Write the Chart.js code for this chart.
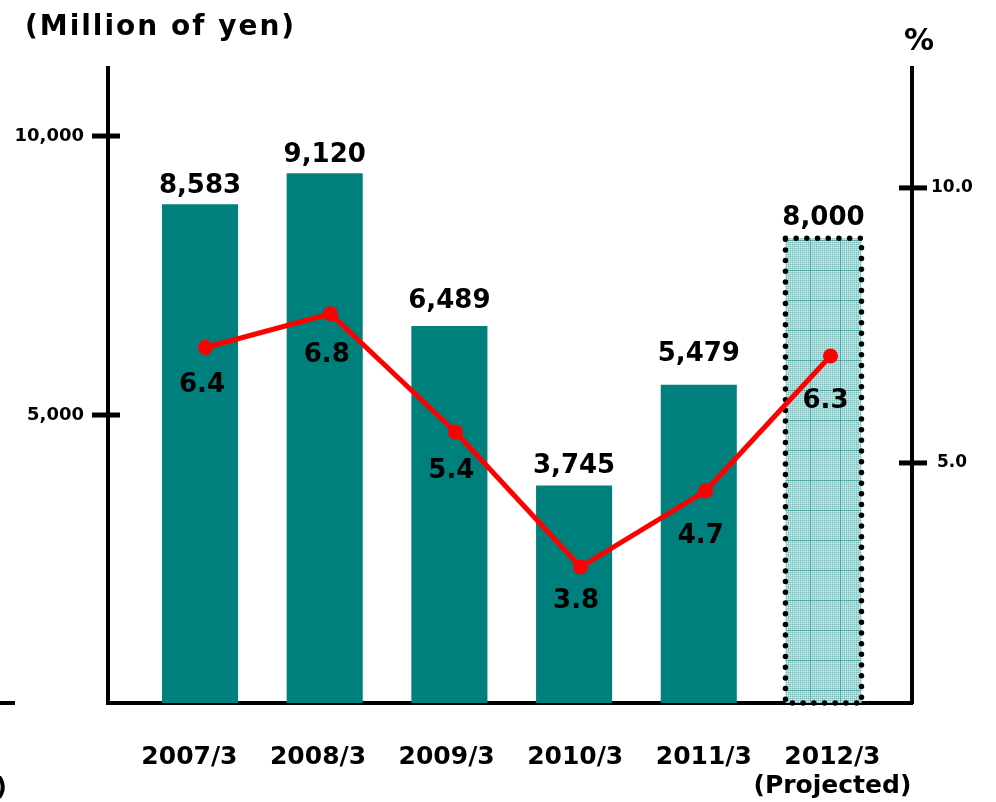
<!DOCTYPE html>
<html>
<head>
<meta charset="utf-8">
<script src="https://cdn.jsdelivr.net/npm/chart.js@4"></script>
<style>
  body { margin: 0; background: #fff; }
  canvas { display: block; }
</style>
</head>
<body>
<canvas id="chart" width="996" height="802"></canvas>
<script>
const categories = ['2007/3', '2008/3', '2009/3', '2010/3', '2011/3', '2012/3'];
const categoryNotes = ['', '', '', '', '', '(Projected)'];
const sales = [8583, 9120, 6489, 3745, 5479, 8000];
const margin = [6.4, 6.8, 5.4, 3.8, 4.7, 6.3];
const leftTicks = [5000, 10000];
const rightTicks = [5.0, 10.0];

const FONT = '"DejaVu Sans", Verdana, sans-serif';
const TEAL = '#00807c';

// per label nudges
const barLabelGap = [11, 11, 18, 12, 24, 13];
const lineLabelDrop = [44, 48, 46, 41, 52, 52];

// light grid fill used for the projected bar
function makeGridPattern(ctx) {
    const pc = document.createElement('canvas');
    pc.width = 30;
    pc.height = 30;
    const p = pc.getContext('2d');
    p.fillStyle = '#d3ebe9';
    p.fillRect(0, 0, 30, 30);
    p.fillStyle = 'rgba(0, 128, 124, 0.22)';
    for (let i = 0; i < 30; i += 2) {
        p.fillRect(i, 0, 1, 30);
        p.fillRect(0, i, 30, 1);
    }
    p.fillStyle = 'rgba(0, 128, 124, 0.45)';
    p.fillRect(0, 0, 1, 30);
    p.fillRect(0, 0, 30, 1);
    return ctx.createPattern(pc, 'repeat');
}

const canvas = document.getElementById('chart');
const ctx = canvas.getContext('2d');
const gridPattern = makeGridPattern(ctx);

const barColors = sales.map((v, i) => categoryNotes[i] ? gridPattern : TEAL);
const indexTicks = axis => {
    axis.ticks = categories.map((c, i) => ({ value: i }));
};

const extrasPlugin = {
    id: 'extras',
    afterDatasetDraw(chart, args) {
        if (args.index !== 0) return;
        const c = chart.ctx;
        const meta = chart.getDatasetMeta(0);
        meta.data.forEach((bar, i) => {
            if (!categoryNotes[i]) return;
            const p = bar.getProps(['x', 'y', 'base', 'width'], true);
            c.save();
            c.strokeStyle = '#000';
            c.lineWidth = 5.5;
            c.lineCap = 'round';
            c.setLineDash([0, 10.7]);
            c.strokeRect(p.x - p.width / 2, p.y, p.width, p.base - p.y);
            c.restore();
        });
    },
    afterDatasetsDraw(chart) {
        const c = chart.ctx;
        const s = chart.scales;
        c.save();
        c.fillStyle = '#000';
        c.font = 'bold 26px ' + FONT;
        c.textAlign = 'center';
        c.textBaseline = 'alphabetic';

        // bar values
        chart.getDatasetMeta(0).data.forEach((bar, i) => {
            c.fillText(sales[i].toLocaleString('en-US'), bar.x, bar.y - barLabelGap[i]);
        });

        // line values
        chart.getDatasetMeta(1).data.forEach((pt, i) => {
            const x = s.xBar.getPixelForValue(i) + 2;
            c.fillText(margin[i].toFixed(1), x, pt.y + lineLabelDrop[i]);
        });

        // tick marks crossing the side axes
        c.strokeStyle = '#000';
        c.lineWidth = 5;
        leftTicks.forEach(v => {
            const y = s.y.getPixelForValue(v);
            c.beginPath();
            c.moveTo(s.y.right - 16, y);
            c.lineTo(s.y.right + 12, y);
            c.stroke();
        });
        rightTicks.forEach(v => {
            const y = s.y1.getPixelForValue(v);
            c.beginPath();
            c.moveTo(s.y1.left - 13, y);
            c.lineTo(s.y1.left + 15, y);
            c.stroke();
        });
        c.lineWidth = 4;
        const y0 = s.yBar.getPixelForValue(0);
        c.beginPath();
        c.moveTo(0, y0);
        c.lineTo(15, y0);
        c.stroke();

        // titles
        c.font = 'bold 28px ' + FONT;
        c.textAlign = 'left';
        c.letterSpacing = '2px';
        c.fillText('(Million of yen)', 25, 35);
        c.letterSpacing = '0px';
        c.font = 'bold 30px ' + FONT;
        c.textAlign = 'center';
        c.fillText('%', 919, 50);
        c.font = 'bold 25px ' + FONT;
        c.textAlign = 'right';
        c.fillText('(FY)', 7, 795);
        c.restore();
    }
};

new Chart(ctx, {
    type: 'bar',
    data: {
        datasets: [
            {
                type: 'bar',
                label: 'Sales',
                data: sales.map((v, i) => ({ x: i, y: v })),
                backgroundColor: barColors,
                borderWidth: 0,
                grouped: false,
                categoryPercentage: 1,
                barPercentage: 0.61,
                xAxisID: 'xBar',
                yAxisID: 'yBar',
                order: 1
            },
            {
                type: 'line',
                label: 'Margin',
                data: margin.map((v, i) => ({ x: i, y: v })),
                borderColor: '#ff0000',
                backgroundColor: '#ff0000',
                borderWidth: 5,
                pointRadius: 7.5,
                pointBorderWidth: 0,
                pointBackgroundColor: '#ff0000',
                tension: 0,
                xAxisID: 'xLine',
                yAxisID: 'yLine',
                order: 0
            }
        ]
    },
    options: {
        responsive: false,
        animation: false,
        devicePixelRatio: 1,
        layout: { padding: { top: 68, left: 0, right: 0, bottom: 0 } },
        plugins: {
            legend: { display: false },
            tooltip: { enabled: false }
        },
        scales: {
            x: {
                type: 'linear',
                position: 'bottom',
                offset: false,
                min: -0.633,
                max: 5.619,
                afterBuildTicks: indexTicks,
                afterFit: axis => { axis.height = 99; },
                grid: { display: false, drawTicks: false, offset: false },
                border: { display: true, color: '#000', width: 4 },
                ticks: {
                    color: '#000',
                    padding: 40,
                    maxRotation: 0,
                    autoSkip: false,
                    font: { family: FONT, size: 25, weight: 'bold', lineHeight: 1.16 },
                    callback: value => categoryNotes[value] ? [categories[value], categoryNotes[value]] : categories[value]
                }
            },
            xBar: {
                type: 'linear',
                display: false,
                offset: false,
                min: -0.738,
                max: 5.710,
                afterBuildTicks: indexTicks
            },
            xLine: {
                type: 'linear',
                display: false,
                offset: false,
                min: -0.78,
                max: 5.652,
                afterBuildTicks: indexTicks
            },
            y: {
                type: 'linear',
                position: 'left',
                min: -161,
                max: 11219,
                afterBuildTicks: axis => {
                    axis.ticks = leftTicks.map(v => ({ value: v }));
                },
                afterFit: axis => { axis.width = 108; },
                grid: { display: false, drawTicks: false },
                border: { display: true, color: '#000', width: 4 },
                ticks: {
                    color: '#000',
                    padding: 24,
                    font: { family: FONT, size: 18, weight: 'bold' },
                    callback: value => value.toLocaleString('en-US')
                }
            },
            y1: {
                type: 'linear',
                position: 'right',
                min: 0.636,
                max: 12.18,
                afterBuildTicks: axis => {
                    axis.ticks = rightTicks.map(v => ({ value: v }));
                },
                afterFit: axis => { axis.width = 84; },
                grid: { display: false, drawTicks: false },
                border: { display: true, color: '#000', width: 4 },
                ticks: {
                    color: '#000',
                    padding: 19,
                    crossAlign: 'center',
                    font: { family: FONT, size: 17, weight: 'bold' },
                    callback: value => value.toFixed(1)
                }
            },
            yBar: {
                type: 'linear',
                display: false,
                min: 0,
                max: 10930
            },
            yLine: {
                type: 'linear',
                display: false,
                min: 2.19,
                max: 9.71
            }
        }
    },
    plugins: [extrasPlugin]
});
</script>
</body>
</html>
